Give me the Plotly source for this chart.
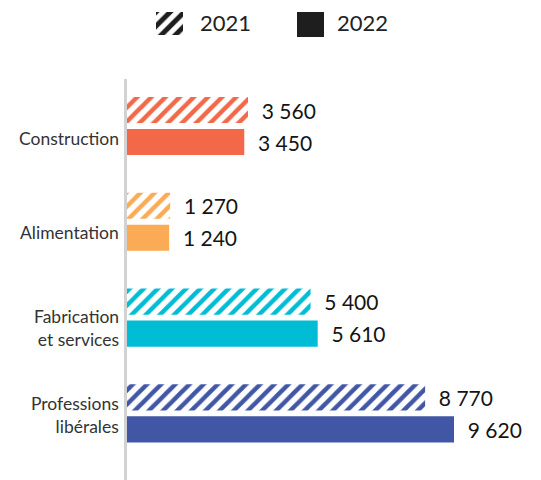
import plotly.graph_objects as go

categories = ["Construction", "Alimentation", "Fabrication<br>et services", "Professions<br>libérales"]
values_2021 = [3560, 1270, 5400, 8770]
values_2022 = [3450, 1240, 5610, 9620]
series_names = ["2021", "2022"]
colors = ["#F26849", "#FBAA55", "#00BCD4", "#4256A6"]

# the page has an 8px body margin; work in reference pixels and subtract it
OFF = 8
W, H = 541 - OFF, 480 - OFF
L = 127 - OFF
FONT = "Lato"

def fmt(v):
    return "\u00a0\u00a0" + f"{v:,}".replace(",", " ")

fig = go.Figure()

# 2021 - hatched
fig.add_trace(go.Bar(
    y=categories, x=values_2021, orientation="h", name=series_names[0],
    width=0.272, offset=-0.303,
    marker=dict(color="white", line=dict(width=0),
                pattern=dict(shape="/", fgcolor=colors, bgcolor="white",
                             size=10, solidity=0.45, fillmode="replace")),
    text=[fmt(v) for v in values_2021], textposition="outside",
    textfont=dict(size=21, color="#141414", family=FONT),
    cliponaxis=False, showlegend=False,
))
# 2022 - solid
fig.add_trace(go.Bar(
    y=categories, x=values_2022, orientation="h", name=series_names[1],
    width=0.272, offset=0.031,
    marker=dict(color=colors, line=dict(width=0)),
    text=[fmt(v) for v in values_2022], textposition="outside",
    textfont=dict(size=21, color="#141414", family=FONT),
    cliponaxis=False, showlegend=False,
))

# legend hatched icon (drawn as a small patterned bar on its own axes)
fig.add_trace(go.Bar(
    x=[1], y=[1], orientation="v", xaxis="x2", yaxis="y2", width=1,
    marker=dict(color="white", line=dict(width=0),
                pattern=dict(shape="/", fgcolor="#1e1e1e", bgcolor="white",
                             size=10, solidity=0.5, fillmode="replace")),
    showlegend=False, hoverinfo="skip",
))

def px_x(p):
    return (p - OFF - L) / (W - L)

def px_y(p):
    return 1 - (p - OFF) / H

# legend solid icon
fig.add_shape(type="rect", xref="paper", yref="paper",
              x0=px_x(297), x1=px_x(324), y0=px_y(37), y1=px_y(12),
              fillcolor="#1e1e1e", line=dict(width=0))

# vertical axis line
fig.add_shape(type="line", xref="paper", yref="paper",
              x0=px_x(125.5), x1=px_x(125.5), y0=px_y(490), y1=px_y(79),
              line=dict(color="#d2d2d2", width=3))

for txt, xp in [(series_names[0], 198), (series_names[1], 335)]:
    fig.add_annotation(text=txt, xref="paper", yref="paper",
                       x=px_x(xp), y=px_y(22), xanchor="left", yanchor="middle",
                       showarrow=False, font=dict(size=22, color="#222222", family=FONT))

# category labels
label_shift = [-12, -11, -10, -2]
for c, s in zip(categories, label_shift):
    fig.add_annotation(text=c, xref="paper", yref="y", x=0, y=c,
                       xanchor="right", yanchor="middle", xshift=-6, yshift=s,
                       align="right", showarrow=False,
                       font=dict(size=17.5, color="#333333", family=FONT))

spacing = 95.8
top_px, cat0_px = 79 - OFF, 126 - OFF
y_top = (top_px - cat0_px) / spacing
y_bot = (H - cat0_px) / spacing
scale = (454 - 127) / values_2022[3]
x_max = (W - L) / scale

fig.update_layout(
    width=W, height=H,
    margin=dict(l=L, r=0, t=0, b=0),
    paper_bgcolor="white", plot_bgcolor="white",
    barmode="overlay",
    font=dict(family=FONT),
    xaxis=dict(range=[0, x_max], visible=False, fixedrange=True),
    yaxis=dict(range=[y_bot, y_top], domain=[0, (H - top_px) / H],
               showticklabels=False, showgrid=False, zeroline=False,
               showline=False, ticks=""),
    xaxis2=dict(domain=[px_x(156), px_x(183)], range=[0.5, 1.5], visible=False, anchor="y2"),
    yaxis2=dict(domain=[px_y(35), px_y(12)], range=[0, 1], visible=False, anchor="x2"),
)

fig.write_html("out.html")
